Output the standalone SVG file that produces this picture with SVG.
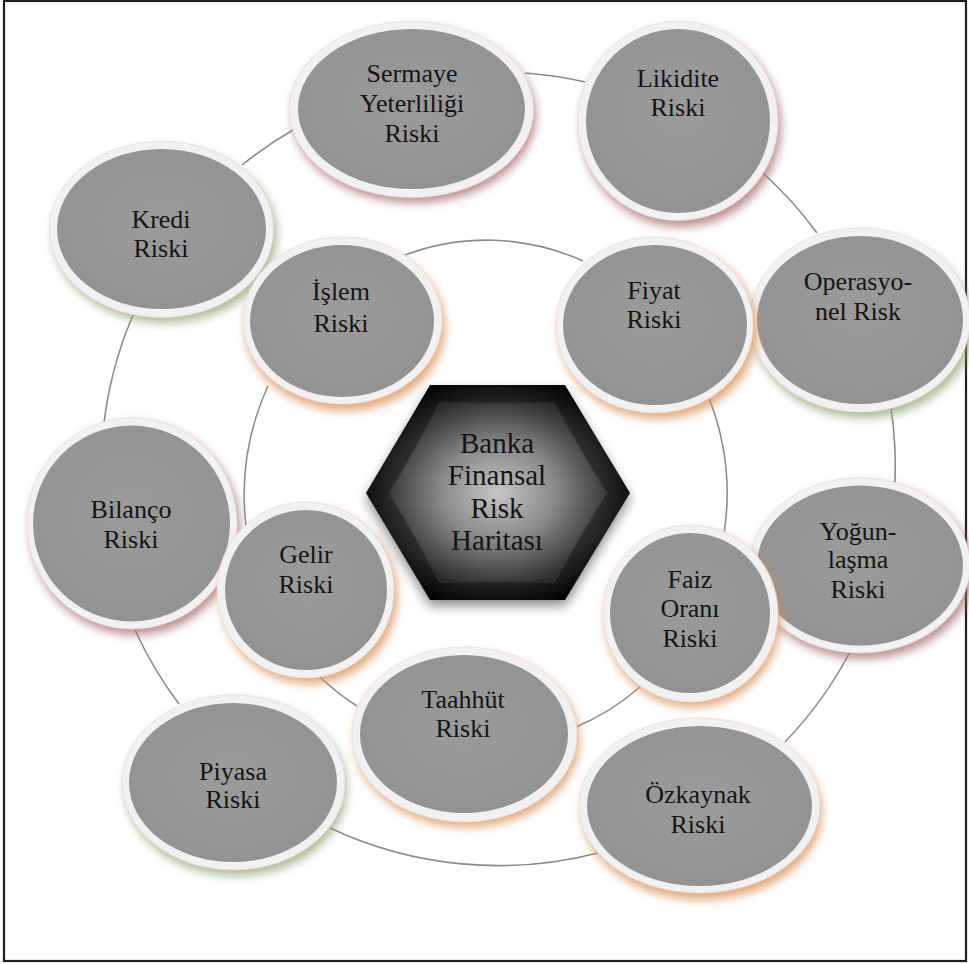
<svg xmlns="http://www.w3.org/2000/svg" width="969" height="964" viewBox="0 0 969 964">
<defs>
<style>
.frame{fill:#fff;stroke:#1e1e1e;stroke-width:2.2}
.conn{fill:none;stroke:#8c8c8c;stroke-width:1.6}
.ring{fill:#f2f0f0;stroke:#e2e0e0;stroke-width:0.8}
.disc{fill:url(#discGrad)}
.glow{filter:url(#blur);opacity:0.75}
.gr{fill:#a86a6a}
.gg{fill:#8ea674}
.go{fill:#d98e52}
text{font-family:'Liberation Serif','Tinos','DejaVu Serif','Noto Serif',serif;fill:#141414;text-anchor:middle}
.lbl{font-size:26px}
.hlbl{font-size:29px}
</style>
<radialGradient id="discGrad" cx="50%" cy="45%" r="60%">
<stop offset="0" stop-color="#9b9b9b"/>
<stop offset="1" stop-color="#929292"/>
</radialGradient>
<radialGradient id="hexOuter" cx="50%" cy="50%" r="55%">
<stop offset="0" stop-color="#4a4a4a"/>
<stop offset="0.72" stop-color="#2a2a2a"/>
<stop offset="1" stop-color="#020202"/>
</radialGradient>
<radialGradient id="hexInner" cx="50%" cy="50%" r="58%">
<stop offset="0" stop-color="#c6c6c6"/>
<stop offset="0.45" stop-color="#8a8a8a"/>
<stop offset="1" stop-color="#1e1e1e"/>
</radialGradient>
<filter id="blur" x="-20%" y="-20%" width="140%" height="140%">
<feGaussianBlur stdDeviation="5"/>
</filter>
<filter id="hexShadow" x="-20%" y="-20%" width="140%" height="140%">
<feGaussianBlur stdDeviation="6"/>
</filter>
</defs>

<rect class="frame" x="4" y="1" width="962" height="960"/>

<g id="connectors">
<path class="conn" d="M525,73 A397,397 0 0 1 585,82"/>
<path class="conn" d="M763,173 A397,397 0 0 1 817,233"/>
<path class="conn" d="M891,408 A397,397 0 0 1 895,482"/>
<path class="conn" d="M850,652 A397,397 0 0 1 785,742"/>
<path class="conn" d="M598,853 A397,397 0 0 1 330,828"/>
<path class="conn" d="M179,704 A397,397 0 0 1 135,630"/>
<path class="conn" d="M103,432 A397,397 0 0 1 133,315"/>
<path class="conn" d="M242,165 A397,397 0 0 1 293,130"/>
<path class="conn" d="M405,255 A242,253 0 0 1 583,261"/>
<path class="conn" d="M709,398 A242,253 0 0 1 724,534"/>
<path class="conn" d="M640,687 A242,253 0 0 1 576,727"/>
<path class="conn" d="M357,706 A242,253 0 0 1 320,677"/>
<path class="conn" d="M246,526 A242,253 0 0 1 268,386"/>
</g>

<g id="node-sermaye">
<ellipse class="glow gr" cx="414" cy="115" rx="122" ry="88"/>
<ellipse class="ring" cx="411.5" cy="109.5" rx="122" ry="88"/>
<ellipse class="disc" cx="411.5" cy="109" rx="113.5" ry="80"/>
<text class="lbl" x="412" y="82">Sermaye</text>
<text class="lbl" x="412" y="112">Yeterliliği</text>
<text class="lbl" x="412" y="142">Riski</text>
</g>

<g id="node-likidite">
<ellipse class="glow gr" cx="681" cy="127" rx="100" ry="100"/>
<ellipse class="ring" cx="678" cy="121" rx="100" ry="99.5"/>
<ellipse class="disc" cx="678" cy="121" rx="92" ry="92"/>
<text class="lbl" x="678" y="87">Likidite</text>
<text class="lbl" x="678" y="116">Riski</text>
</g>

<g id="node-kredi">
<ellipse class="glow gg" cx="165" cy="235" rx="112" ry="88"/>
<ellipse class="ring" cx="161.5" cy="229.5" rx="112" ry="88"/>
<ellipse class="disc" cx="161.5" cy="229" rx="104.5" ry="80"/>
<text class="lbl" x="161" y="228">Kredi</text>
<text class="lbl" x="161" y="257">Riski</text>
</g>

<g id="node-operasyonel">
<ellipse class="glow gg" cx="863" cy="326" rx="110" ry="92"/>
<ellipse class="ring" cx="860" cy="320" rx="110" ry="92"/>
<ellipse class="disc" cx="860" cy="320" rx="103" ry="84"/>
<text class="lbl" x="858" y="290">Operasyo-</text>
<text class="lbl" x="858" y="320">nel Risk</text>
</g>

<g id="node-yogunlasma">
<ellipse class="glow gr" cx="863" cy="571" rx="110" ry="88"/>
<ellipse class="ring" cx="860" cy="565.5" rx="110" ry="87.5"/>
<ellipse class="disc" cx="860" cy="565.5" rx="103" ry="80"/>
<text class="lbl" x="858" y="540">Yoğun-</text>
<text class="lbl" x="858" y="568">laşma</text>
<text class="lbl" x="858" y="598">Riski</text>
</g>

<g id="node-ozkaynak">
<ellipse class="glow go" cx="702" cy="812" rx="120" ry="88"/>
<ellipse class="ring" cx="699.5" cy="805.5" rx="120.5" ry="87.5"/>
<ellipse class="disc" cx="699.5" cy="806" rx="112.5" ry="80"/>
<text class="lbl" x="698" y="803">Özkaynak</text>
<text class="lbl" x="698" y="833">Riski</text>
</g>

<g id="node-piyasa">
<ellipse class="glow gg" cx="236" cy="788" rx="111" ry="88"/>
<ellipse class="ring" cx="233.5" cy="782.5" rx="111.5" ry="87.5"/>
<ellipse class="disc" cx="233" cy="782.5" rx="104" ry="79.5"/>
<text class="lbl" x="233" y="780">Piyasa</text>
<text class="lbl" x="233" y="808">Riski</text>
</g>

<g id="node-bilanco">
<ellipse class="glow gr" cx="135" cy="529" rx="105" ry="106"/>
<ellipse class="ring" cx="132" cy="523.5" rx="105" ry="105.5"/>
<ellipse class="disc" cx="131.5" cy="523.5" rx="98.5" ry="98"/>
<text class="lbl" x="131" y="518">Bilanço</text>
<text class="lbl" x="131" y="548">Riski</text>
</g>

<g id="node-islem">
<ellipse class="glow go" cx="345" cy="327" rx="100" ry="84"/>
<ellipse class="ring" cx="342.5" cy="320.5" rx="99.5" ry="83.5"/>
<ellipse class="disc" cx="342" cy="321" rx="92" ry="76"/>
<text class="lbl" x="341" y="300">İşlem</text>
<text class="lbl" x="341" y="332">Riski</text>
</g>

<g id="node-fiyat">
<ellipse class="glow go" cx="658" cy="331" rx="99" ry="88"/>
<ellipse class="ring" cx="654.5" cy="325" rx="98.5" ry="88"/>
<ellipse class="disc" cx="655" cy="325" rx="92" ry="80"/>
<text class="lbl" x="654" y="299">Fiyat</text>
<text class="lbl" x="654" y="328">Riski</text>
</g>

<g id="node-gelir">
<ellipse class="glow go" cx="309" cy="596" rx="88.5" ry="88"/>
<ellipse class="ring" cx="305.5" cy="590" rx="88.5" ry="88"/>
<ellipse class="disc" cx="306" cy="590" rx="81" ry="80"/>
<text class="lbl" x="306" y="563">Gelir</text>
<text class="lbl" x="306" y="593">Riski</text>
</g>

<g id="node-taahhut">
<ellipse class="glow go" cx="467" cy="740" rx="112.5" ry="87.5"/>
<ellipse class="ring" cx="464.5" cy="734.5" rx="112.5" ry="87.5"/>
<ellipse class="disc" cx="464" cy="734" rx="104" ry="79"/>
<text class="lbl" x="463" y="708">Taahhüt</text>
<text class="lbl" x="463" y="737">Riski</text>
</g>

<g id="node-faiz">
<ellipse class="glow go" cx="693" cy="619" rx="87.5" ry="88.5"/>
<ellipse class="ring" cx="690.5" cy="613.5" rx="87.5" ry="88.5"/>
<ellipse class="disc" cx="690" cy="613" rx="80" ry="80"/>
<text class="lbl" x="690" y="588">Faiz</text>
<text class="lbl" x="690" y="617">Oranı</text>
<text class="lbl" x="690" y="647">Riski</text>
</g>

<g id="node-center">
<polygon points="366,499 430,391 565,391 630,499 565,606 430,606" fill="#000" opacity="0.45" filter="url(#hexShadow)"/>
<polygon points="366,493 430,385 565,385 630,493 565,600 430,600" fill="url(#hexOuter)"/>
<polygon points="389,493 440,403 554,403 607,493 554,582 440,582" fill="url(#hexInner)" stroke="#333" stroke-width="1.2"/>
<text class="hlbl" x="497" y="453">Banka</text>
<text class="hlbl" x="497" y="485">Finansal</text>
<text class="hlbl" x="497" y="518">Risk</text>
<text class="hlbl" x="497" y="550">Haritası</text>
</g>
</svg>
